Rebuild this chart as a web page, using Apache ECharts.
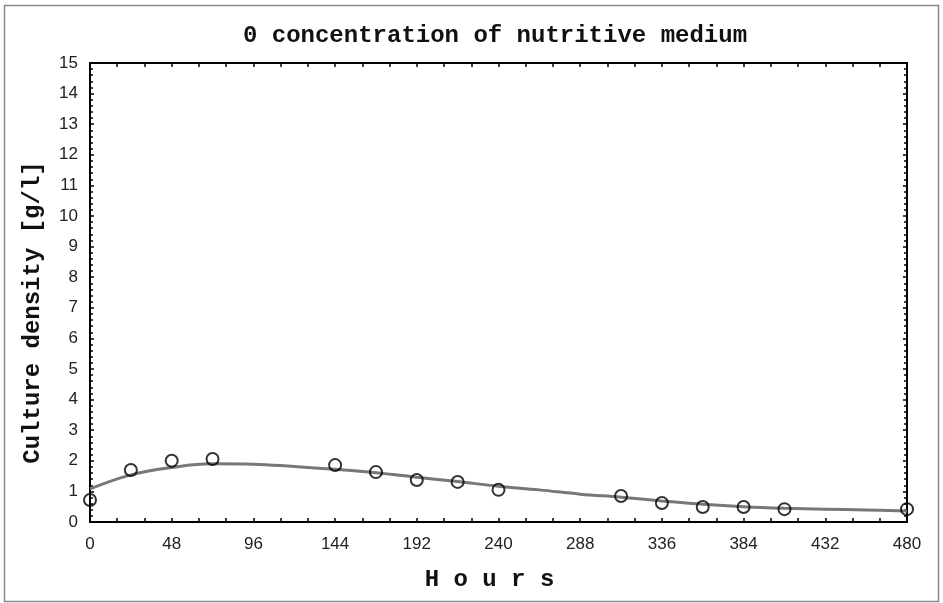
<!DOCTYPE html>
<html>
<head>
<meta charset="utf-8">
<script src="https://cdn.jsdelivr.net/npm/echarts@6.0.0/dist/echarts.min.js"></script>
<style>
    html, body { margin: 0; padding: 0; background: #fff; }
    #chart { width: 943px; height: 603px; }
</style>
</head>
<body>
<div id="chart"></div>
<script>
    const measuredHours = [0, 24, 48, 72, 144, 168, 192, 216, 240, 312, 336, 360, 384, 408, 480];
    const measuredDensity = [0.72, 1.7, 2.0, 2.06, 1.86, 1.63, 1.37, 1.31, 1.05, 0.85, 0.62, 0.49, 0.49, 0.42, 0.42];

    const fitHours = [0, 24, 48, 72, 96, 120, 144, 168, 192, 216, 240, 264, 288, 312, 336, 360, 384, 408, 432, 456, 480];
    const fitDensity = [1.08, 1.54, 1.78, 1.9, 1.89, 1.81, 1.72, 1.61, 1.46, 1.32, 1.17, 1.05, 0.91, 0.81, 0.69, 0.58, 0.5, 0.45, 0.42, 0.39, 0.36];

    const titleText = "0 concentration of nutritive medium";
    const xTitle = "H o u r s";
    const yTitle = "Culture density [g/l]";

    const chart = echarts.init(document.getElementById("chart"), null, { renderer: "canvas" });

    const mono = "'Liberation Mono', 'DejaVu Sans Mono', monospace";
    const narrow = "'Liberation Sans Narrow', 'Liberation Sans', Arial, sans-serif";

    const frameAxis = (extra) => Object.assign({
        type: "value",
        axisLine: { show: true, onZero: false, lineStyle: { color: "#000", width: 2 } },
        axisTick: { show: true, inside: true, length: 4, lineStyle: { color: "#000", width: 1.5 } },
        splitLine: { show: false }
    }, extra);

    chart.setOption({
        animation: false,
        backgroundColor: "#fff",
        title: {
            text: titleText,
            left: 490,
            top: 19,
            textAlign: "center",
            textStyle: { fontFamily: mono, fontSize: 24, fontWeight: "bold", color: "#111" }
        },
        graphic: [{
            type: "rect",
            shape: { x: 4.5, y: 5.5, width: 934, height: 596 },
            style: { fill: "none", stroke: "#888", lineWidth: 1.5 },
            silent: true
        }],
        grid: { left: 90, top: 63, right: 36, bottom: 81, outerBoundsMode: "none", containLabel: false },
        xAxis: [
            frameAxis({
                min: 0, max: 480, interval: 48,
                position: "bottom",
                minorTick: { show: true, splitNumber: 3, length: 4, lineStyle: { color: "#000", width: 1.5 } },
                name: xTitle,
                nameLocation: "middle",
                nameGap: 46,
                nameTextStyle: { fontFamily: mono, fontSize: 24, fontWeight: "bold", color: "#111", padding: [0, 18, 0, 0] },
                axisLabel: { color: "#222", fontFamily: narrow, fontSize: 17, margin: 14 }
            }),
            frameAxis({
                min: 0, max: 480, interval: 48,
                position: "top",
                minorTick: { show: true, splitNumber: 3, length: 4, lineStyle: { color: "#000", width: 1.5 } },
                axisLabel: { show: false }
            })
        ],
        yAxis: [
            frameAxis({
                min: 0, max: 15, interval: 1,
                position: "left",
                minorTick: { show: true, splitNumber: 5, length: 3, lineStyle: { color: "#000", width: 1.5 } },
                name: yTitle,
                nameLocation: "middle",
                nameGap: 45,
                nameRotate: 90,
                nameTextStyle: { fontFamily: mono, fontSize: 24, fontWeight: "bold", color: "#111", padding: [0, 40, 0, 0] },
                axisLabel: { color: "#222", fontFamily: narrow, fontSize: 17, margin: 12 }
            }),
            frameAxis({
                min: 0, max: 15, interval: 1,
                position: "right",
                minorTick: { show: true, splitNumber: 5, length: 3, lineStyle: { color: "#000", width: 1.5 } },
                axisLabel: { show: false }
            })
        ],
        series: [
            {
                name: "fit",
                type: "line",
                data: fitHours.map((h, i) => [h, fitDensity[i]]),
                smooth: 0.4,
                symbol: "none",
                lineStyle: { color: "#777", width: 3 },
                z: 2
            },
            {
                name: "measured",
                type: "scatter",
                data: measuredHours.map((h, i) => [h, measuredDensity[i]]),
                symbol: "circle",
                symbolSize: 12,
                clip: true,
                itemStyle: { color: "rgba(255,255,255,0)", borderColor: "#000", borderWidth: 2 },
                z: 3
            }
        ]
    });
</script>
</body>
</html>
